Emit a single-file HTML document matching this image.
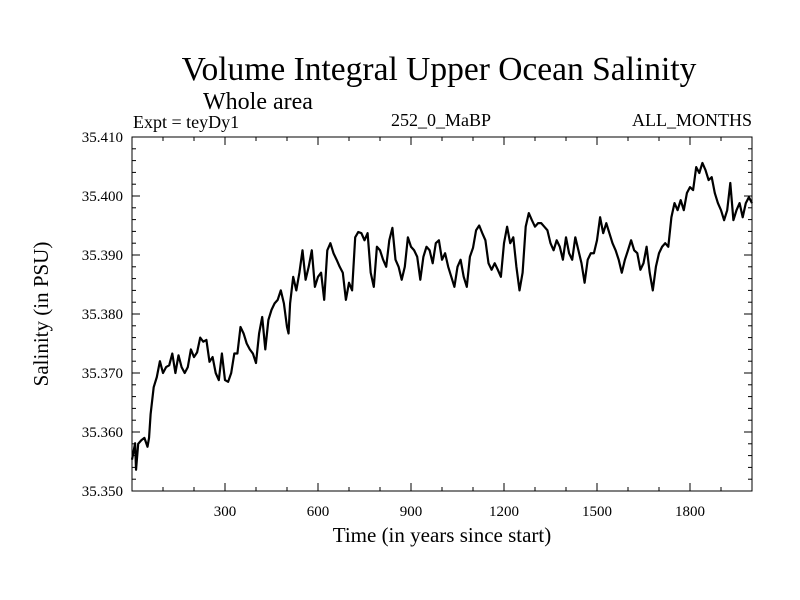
<!DOCTYPE html>
<html><head><meta charset="utf-8"><style>
html,body{margin:0;padding:0;background:#fff;}
svg{display:block;font-family:"Liberation Serif",serif;}
</style></head><body>
<svg id="chart" width="800" height="600" viewBox="0 0 800 600">
<text x="439" y="80" font-size="33.5" text-anchor="middle">Volume Integral Upper Ocean Salinity</text>
<text x="203" y="109" font-size="24">Whole area</text>
<text x="133" y="128" font-size="18">Expt = teyDy1</text>
<text x="441" y="126" font-size="18" text-anchor="middle">252_0_MaBP</text>
<text x="752" y="126" font-size="18" text-anchor="end">ALL_MONTHS</text>
<text x="442" y="542" font-size="21" text-anchor="middle">Time (in years since start)</text>
<text transform="translate(48,314) rotate(-90)" font-size="21" text-anchor="middle">Salinity (in PSU)</text>
<g id="ticks"></g>
<g id="labels"></g>
<path id="series" fill="none" stroke="#000" stroke-width="2.2" stroke-linejoin="round"></path>
<rect x="132" y="137" width="620" height="354" fill="none" stroke="#000" stroke-width="1"></rect>
</svg>
<script>
const years = [0,10,13,20,30,40,50,55,60,70,80,90,100,110,120,130,140,150,160,170,180,190,200,210,220,230,240,250,260,270,280,290,300,310,320,330,340,350,360,370,380,390,400,410,420,430,440,450,460,470,480,490,500,505,510,520,530,540,550,560,570,580,590,600,610,620,630,640,650,660,670,680,690,700,710,720,730,740,750,760,770,780,790,800,810,820,830,840,850,860,870,880,890,900,910,920,930,940,950,960,970,980,990,1000,1010,1020,1030,1040,1050,1060,1070,1080,1090,1100,1110,1120,1130,1140,1150,1160,1170,1180,1190,1200,1210,1220,1230,1240,1250,1260,1270,1280,1290,1300,1310,1320,1330,1340,1350,1360,1370,1380,1390,1400,1410,1420,1430,1440,1450,1460,1470,1480,1490,1500,1510,1520,1530,1540,1550,1560,1570,1580,1590,1600,1610,1620,1630,1640,1650,1660,1670,1680,1690,1700,1710,1720,1730,1740,1750,1760,1770,1780,1790,1800,1810,1820,1830,1840,1850,1860,1870,1880,1890,1900,1910,1920,1930,1940,1950,1960,1970,1980,1990,2000];
const salinity = [35.3553,35.3581,35.3536,35.3580,35.3586,35.3590,35.3575,35.3590,35.3630,35.3676,35.3693,35.3720,35.3700,35.3710,35.3713,35.3733,35.3700,35.3730,35.3710,35.3700,35.3710,35.3740,35.3727,35.3735,35.3760,35.3753,35.3756,35.3719,35.3727,35.3700,35.3688,35.3733,35.3688,35.3685,35.3700,35.3733,35.3733,35.3778,35.3767,35.3750,35.3740,35.3733,35.3717,35.3767,35.3795,35.3740,35.3790,35.3807,35.3818,35.3824,35.3840,35.3818,35.3778,35.3767,35.3818,35.3863,35.3840,35.3870,35.3908,35.3858,35.3880,35.3908,35.3846,35.3863,35.3870,35.3824,35.3908,35.3920,35.3903,35.3892,35.3880,35.3870,35.3824,35.3853,35.3840,35.3930,35.3939,35.3937,35.3925,35.3937,35.3870,35.3846,35.3914,35.3908,35.3892,35.3880,35.3925,35.3946,35.3892,35.3880,35.3858,35.3880,35.3930,35.3914,35.3908,35.3897,35.3858,35.3897,35.3914,35.3908,35.3886,35.3920,35.3925,35.3892,35.3903,35.3880,35.3863,35.3846,35.3880,35.3892,35.3863,35.3846,35.3897,35.3912,35.3942,35.3950,35.3937,35.3925,35.3886,35.3875,35.3886,35.3875,35.3863,35.3920,35.3948,35.3920,35.3930,35.3880,35.3840,35.3870,35.3948,35.3971,35.3959,35.3948,35.3954,35.3954,35.3948,35.3942,35.3920,35.3908,35.3925,35.3914,35.3892,35.3930,35.3903,35.3892,35.3930,35.3908,35.3886,35.3853,35.3892,35.3903,35.3903,35.3925,35.3964,35.3937,35.3954,35.3937,35.3920,35.3908,35.3892,35.3870,35.3892,35.3908,35.3925,35.3908,35.3903,35.3875,35.3886,35.3914,35.3870,35.3840,35.3880,35.3903,35.3914,35.3920,35.3914,35.3964,35.3988,35.3976,35.3993,35.3976,35.4005,35.4015,35.4010,35.4049,35.4039,35.4056,35.4044,35.4027,35.4032,35.4005,35.3988,35.3976,35.3959,35.3976,35.4022,35.3959,35.3976,35.3988,35.3964,35.3988,35.3998,35.3988];
const xTickValues = [300,600,900,1200,1500,1800];
const yTickLabels = ["35.350","35.360","35.370","35.380","35.390","35.400","35.410"];

const X0=132,X1=752,Y0=491,Y1=137;
function xs(v){return X0+(v-0)/(2000-0)*(X1-X0);}
function ys(v){return Y0-(v-35.35)/(35.41-35.35)*(Y0-Y1);}
const NS="http://www.w3.org/2000/svg";
const tg=document.getElementById('ticks'), lg=document.getElementById('labels');
function line(x1,y1,x2,y2,name){
  const l=document.createElementNS(NS,'line');
  l.setAttribute('x1',x1);l.setAttribute('y1',y1);l.setAttribute('x2',x2);l.setAttribute('y2',y2);
  l.setAttribute('stroke','#000');l.setAttribute('stroke-width','1');
  
  
  tg.appendChild(l);
}
for(let yr=100;yr<2000;yr+=100){
  const major=yr%300===0, len=major?8:4, x=xs(yr);
  line(x,Y0,x,Y0-len,'x-tick');
  line(x,Y1,x,Y1+len,'x-tick-top');
}
for(let i=1;i<30;i++){
  const v=35.35+i*0.002, major=i%5===0, len=major?8:4, y=ys(v);
  line(X0,y,X0+len,y,'y-tick');
  line(X1,y,X1-len,y,'y-tick-right');
}
xTickValues.forEach(v=>{
  const t=document.createElementNS(NS,'text');
  t.setAttribute('x',xs(v));t.setAttribute('y',516);t.setAttribute('font-size','15');t.setAttribute('text-anchor','middle');
  t.textContent=v;
  
  
  lg.appendChild(t);
});
yTickLabels.forEach(s=>{
  const t=document.createElementNS(NS,'text');
  t.setAttribute('x',123);t.setAttribute('y',ys(parseFloat(s))+5);t.setAttribute('font-size','15');t.setAttribute('text-anchor','end');
  t.textContent=s;
  
  
  lg.appendChild(t);
});
let d='';
years.forEach((yr,i)=>{d+=(i?'L':'M')+xs(yr).toFixed(2)+','+ys(salinity[i]).toFixed(2);});
document.getElementById('series').setAttribute('d',d);
</script>
</body></html>
